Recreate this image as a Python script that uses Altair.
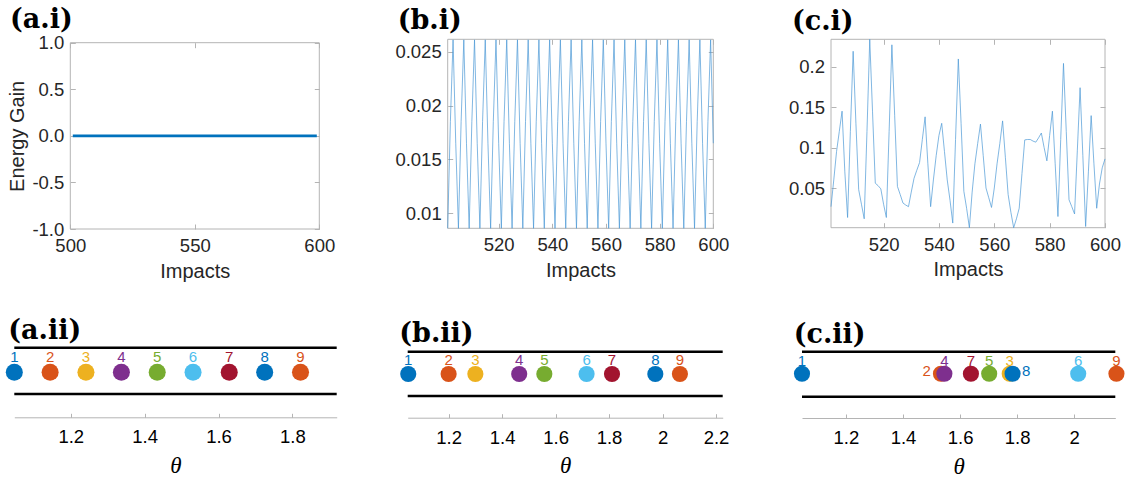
import altair as alt
import pandas as pd

W, H = 1128, 477

# ---------------- data ----------------
a_impacts = [501, 525, 550, 575, 599]
a_gain = [0.0, 0.0, 0.0, 0.0, 0.0]

b_impacts = list(range(501, 601))
b_gain = [
    0.0086, 0.0185, 0.0261, 0.0165, 0.0086, 0.0185, 0.0261, 0.0165,
    0.0086, 0.0185, 0.0261, 0.0165, 0.0086, 0.0185, 0.0261, 0.0165,
    0.0086, 0.0185, 0.0261, 0.0165, 0.0086, 0.0185, 0.0261, 0.0165,
    0.0086, 0.0185, 0.0261, 0.0165, 0.0086, 0.0185, 0.0261, 0.0165,
    0.0086, 0.0185, 0.0261, 0.0165, 0.0086, 0.0185, 0.0261, 0.0165,
    0.0086, 0.0185, 0.0261, 0.0165, 0.0086, 0.0185, 0.0261, 0.0165,
    0.0086, 0.0185, 0.0261, 0.0165, 0.0086, 0.0185, 0.0261, 0.0165,
    0.0086, 0.0185, 0.0261, 0.0165, 0.0086, 0.0185, 0.0261, 0.0165,
    0.0086, 0.0185, 0.0261, 0.0165, 0.0086, 0.0185, 0.0261, 0.0165,
    0.0086, 0.0185, 0.0261, 0.0165, 0.0086, 0.0185, 0.0261, 0.0165,
    0.0086, 0.0185, 0.0261, 0.0165, 0.0086, 0.0185, 0.0261, 0.0165,
    0.0086, 0.0185, 0.0261, 0.0165, 0.0086, 0.0185, 0.0261, 0.0165,
    0.0086, 0.0185, 0.0261, 0.0165,
]

c_impacts = list(range(501, 601))
c_gain = [
    0.027, 0.060, 0.095, 0.120, 0.145, 0.070, 0.0136, 0.120, 0.219, 0.130,
    0.048, 0.030, 0.012, 0.120, 0.2338, 0.145, 0.056, 0.053, 0.049, 0.030,
    0.0136, 0.120, 0.227, 0.140, 0.052, 0.042, 0.0315, 0.029, 0.027, 0.045,
    0.062, 0.072, 0.0815, 0.110, 0.138, 0.080, 0.027, 0.060, 0.090, 0.115,
    0.130, 0.095, 0.060, 0.035, 0.0067, 0.110, 0.2095, 0.130, 0.046, 0.025,
    0.001, 0.045, 0.080, 0.105, 0.129, 0.090, 0.050, 0.038, 0.026, 0.050,
    0.080, 0.105, 0.133, 0.088, 0.042, 0.020, 0.001, 0.012, 0.025, 0.068,
    0.1095, 0.110, 0.110, 0.108, 0.1067, 0.112, 0.118, 0.100, 0.0836, 0.115,
    0.145, 0.080, 0.0148, 0.110, 0.204, 0.120, 0.0355, 0.027, 0.018, 0.096,
    0.174, 0.090, 0.0025, 0.070, 0.1395, 0.080, 0.025, 0.055, 0.075, 0.086,
]

a_xticks = [500, 550, 600]
a_yticks = [-1.0, -0.5, 0.0, 0.5, 1.0]
bc_xticks = [520, 540, 560, 580, 600]
b_yticks = [0.01, 0.015, 0.02, 0.025]
c_yticks = [0.05, 0.1, 0.15, 0.2]

site_labels = ["1", "2", "3", "4", "5", "6", "7", "8", "9"]
a_theta = [1.047, 1.144, 1.241, 1.337, 1.434, 1.531, 1.629, 1.725, 1.822]
b_theta = [1.049, 1.200, 1.300, 1.464, 1.558, 1.716, 1.811, 1.973, 2.065]
c_theta = [1.046, 1.533, 1.774, 1.545, 1.702, 2.014, 1.638, 1.784, 2.148]
a_side = ["above"] * 9
b_side = ["above"] * 9
c_side = ["above", "left", "above", "above", "above", "above", "above", "right", "above"]
a_thticks = [1.2, 1.4, 1.6, 1.8]
b_thticks = [1.2, 1.4, 1.6, 1.8, 2.0, 2.2]
c_thticks = [1.2, 1.4, 1.6, 1.8, 2.0]

palette = ["#0072BD", "#D95319", "#EDB120", "#7E2F8E", "#77AC30",
           "#4DBEEE", "#A2142F", "#0072BD", "#D95319"]

# ---------------- style ----------------
FRAME = "#b4b4b4"
TXT = "#262626"
SANS = "Liberation Sans"
SERIF = "DejaVu Serif"


def tick_axis(orient, offset, values, size=5):
    return alt.Axis(orient=orient, offset=offset, values=values, labels=False,
                    domain=False, grid=False, ticks=True, tickSize=size,
                    tickColor=FRAME, tickWidth=1, title=None)


def panel_title(df, xs, ys, ycol, dx, dy):
    return alt.Chart(df).mark_text(
        align="left", baseline="alphabetic", dx=dx, dy=dy, font=SERIF,
        fontWeight="bold", fontSize=27, color="black"
    ).encode(
        x=alt.X("x0:Q", scale=xs, axis=None),
        y=alt.Y(ycol, scale=ys, axis=None),
        text="t:N",
    )


def top_panel(impacts, gain, xdom, ydom, xr, yr, xticks, yticks, ylabel_expr,
              ytitle, title, tdx, tdy, color, width, xlabel_expr):
    xs = alt.Scale(domain=xdom, range=xr, nice=False, zero=False)
    ys = alt.Scale(domain=ydom, range=yr, nice=False, zero=False)
    fr = pd.DataFrame({"x0": [xdom[0]], "x1": [xdom[1]],
                       "y0": [ydom[0]], "y1": [ydom[1]], "t": [title]})
    lab_x = alt.Axis(orient="bottom", offset=yr[0] - H, values=xticks,
                     labelExpr=xlabel_expr, ticks=False, tickSize=0,
                     domain=False, grid=False, labelPadding=7.5,
                     labelFontSize=18.5, labelFont=SANS, labelColor=TXT,
                     labelFlush=False, labelOverlap=False,
                     title="Impacts", titleFont=SANS, titleFontSize=20,
                     titleFontWeight="normal", titleColor=TXT,
                     titleY=48, titleBaseline="alphabetic")
    ykw = dict(orient="left", offset=-xr[0], values=yticks,
               labelExpr=ylabel_expr, ticks=False, tickSize=0, domain=False,
               grid=False, labelPadding=6.5, labelFontSize=18.5,
               labelFont=SANS, labelColor=TXT, labelFlush=False,
               labelOverlap=False)
    if ytitle:
        lab_y = alt.Axis(title=ytitle, titleFont=SANS, titleFontSize=20,
                         titleFontWeight="normal", titleColor=TXT,
                         titleX=-53, titleBaseline="middle", **ykw)
    else:
        lab_y = alt.Axis(title=None, **ykw)
    frame = alt.Chart(fr).mark_rect(fill="transparent", stroke=FRAME,
                                    strokeWidth=1).encode(
        x=alt.X("x0:Q", scale=xs, axis=lab_x), x2="x1:Q",
        y=alt.Y("y0:Q", scale=ys, axis=lab_y), y2="y1:Q")
    line = alt.Chart(pd.DataFrame({"impact": impacts, "gain": gain})).mark_line(
        color=color, strokeWidth=width).encode(
        x=alt.X("impact:Q", scale=xs, axis=tick_axis("top", -yr[0], xticks)),
        y=alt.Y("gain:Q", scale=ys, axis=tick_axis("right", xr[0] - W, yticks)))
    carrier = alt.Chart(fr).mark_rect(opacity=0).encode(
        x=alt.X("x0:Q", scale=xs, axis=tick_axis("bottom", yr[1] - H, xticks)),
        x2="x1:Q",
        y=alt.Y("y0:Q", scale=ys, axis=tick_axis("left", -xr[1], yticks)),
        y2="y1:Q")
    ttl = panel_title(fr, xs, ys, "y1:Q", tdx, tdy)
    return alt.layer(frame, carrier, line, ttl).resolve_axis(
        x="independent", y="independent")


def bottom_panel(theta, side, xdom, xr, yr, thticks, levels, title, tdx, tdy,
                 dot_size):
    xs = alt.Scale(domain=xdom, range=xr, nice=False, zero=False)
    ys = alt.Scale(domain=[0, 1], range=yr, nice=False, zero=False)
    top_l, bot_l, dot_l, lab_l, side_l = levels
    rails = pd.DataFrame({"x0": [xdom[0], xdom[0]], "x1": [xdom[1], xdom[1]],
                          "y": [top_l, bot_l]})
    dots = pd.DataFrame({"theta": theta, "site": site_labels, "side": side})
    dots["y"] = dot_l
    dots["ly"] = [lab_l if s == "above" else side_l for s in side]
    fr = pd.DataFrame({"x0": [xdom[0]], "y1": [1.0], "t": [title]})
    color = alt.Color("site:N", scale=alt.Scale(domain=site_labels, range=palette),
                      legend=None)
    lab_x = alt.Axis(orient="bottom", offset=yr[0] - H, values=thticks,
                     format="~g", domain=True, domainColor=FRAME, domainWidth=1,
                     ticks=False, tickSize=0, grid=False, labelPadding=10.5,
                     labelFontSize=18.5, labelFont=SANS, labelColor="black",
                     labelFlush=False, labelOverlap=False,
                     title="θ", titleFont="Liberation Serif",
                     titleFontStyle="italic", titleFontSize=23,
                     titleFontWeight="normal", titleColor="black",
                     titleY=55, titleBaseline="alphabetic")
    rail = alt.Chart(rails).mark_rule(color="black", strokeWidth=2.6).encode(
        x=alt.X("x0:Q", scale=xs, axis=tick_axis("top", -yr[0], thticks, 4)),
        x2="x1:Q",
        y=alt.Y("y:Q", scale=ys, axis=None))
    dot = alt.Chart(dots).mark_circle(size=dot_size, opacity=1).encode(
        x=alt.X("theta:Q", scale=xs, axis=lab_x),
        y=alt.Y("y:Q", scale=ys, axis=None),
        color=color)
    layers = [rail, dot]
    for sd, al, dx in [("above", "center", 0), ("left", "right", -10),
                       ("right", "left", 9.5)]:
        if sd not in side:
            continue
        layers.append(alt.Chart(dots).transform_filter(
            alt.datum.side == sd).mark_text(
            align=al, baseline="middle", dx=dx, font=SANS, fontSize=15).encode(
            x=alt.X("theta:Q", scale=xs, axis=None),
            y=alt.Y("ly:Q", scale=ys, axis=None),
            text="site:N", color=color))
    layers.append(panel_title(fr, xs, ys, "y1:Q", tdx, tdy))
    return alt.layer(*layers).resolve_axis(x="independent", y="independent")


pa = top_panel(a_impacts, a_gain, [500, 600], [-1, 1], [70.3, 319.3],
               [229.0, 42.7], a_xticks, a_yticks,
               "datum.value < 0 ? '-' + format(-datum.value, '.1f') : format(datum.value, '.1f')",
               "Energy Gain", "(a.i)", -60.3, -14.5, "#0072BD", 2.6,
               "format(datum.value, 'd')")
pb = top_panel(b_impacts, b_gain, [501, 600], [0.0086, 0.02615],
               [447.7, 713.3], [228.3, 39.3], bc_xticks, b_yticks,
               "format(datum.value, '~g')", None, "(b.i)", -50, -10.5,
               "#4a98d6", 0.7, "format(datum.value, 'd')")
pc = top_panel(c_impacts, c_gain, [501, 600], [0.001, 0.2338],
               [831.0, 1105.0], [227.7, 39.3], bc_xticks, c_yticks,
               "format(datum.value, '~g')", None, "(c.i)", -39, -9,
               "#4a98d6", 0.7, "format(datum.value, 'd')")

qa = bottom_panel(a_theta, a_side, [1.047, 1.920], [14.3, 336.7], [417.3, 345.0],
                  a_thticks, (0.963, 0.322, 0.622, 0.831, 0.622),
                  "(a.ii)", -6, -5.7, 290)
qb = bottom_panel(b_theta, b_side, [1.047, 2.225], [407.7, 722.7], [417.7, 345.0],
                  b_thticks, (0.908, 0.298, 0.601, 0.794, 0.601),
                  "(b.ii)", -8.4, -3.3, 260)
qc = bottom_panel(c_theta, c_side, [1.046, 2.144], [802.0, 1115.3], [418.0, 345.0],
                  c_thticks, (0.908, 0.292, 0.607, 0.776, 0.637),
                  "(c.ii)", -8.3, -1.7, 260)

chart = alt.layer(pa, pb, pc, qa, qb, qc).resolve_scale(
    x="independent", y="independent"
).resolve_axis(
    x="independent", y="independent"
).properties(
    width=W, height=H, padding=0, background="white",
    autosize=alt.AutoSizeParams(type="none"),
).configure_view(strokeWidth=0)

chart.save("out.html", embed_options={"renderer": "svg", "actions": False})
